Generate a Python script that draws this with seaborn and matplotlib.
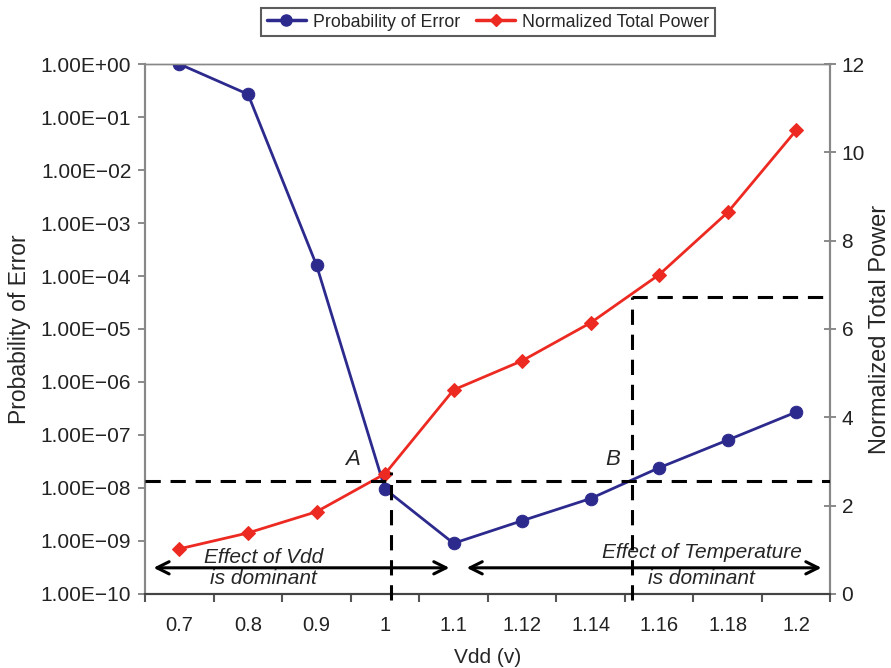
import numpy as np
import pandas as pd
import matplotlib
matplotlib.use("Agg")
import matplotlib.pyplot as plt
import seaborn as sns
from matplotlib.lines import Line2D

vdd_labels = ["0.7", "0.8", "0.9", "1", "1.1", "1.12", "1.14", "1.16", "1.18", "1.2"]
prob_error = [1.0, 0.27, 1.6e-4, 9.5e-9, 9.0e-10, 2.4e-9, 6.3e-9, 2.4e-8, 8.0e-8, 2.7e-7]
norm_power = [1.02, 1.38, 1.86, 2.72, 4.62, 5.28, 6.14, 7.23, 8.64, 10.5]
left_ticks = [10.0 ** k for k in range(0, -11, -1)]
left_tick_labels = ["1.00E+00"] + ["1.00E\u2212%02d" % k for k in range(1, 11)]
right_ticks = [0, 2, 4, 6, 8, 10, 12]

sns.set_style("white")
plt.rcParams["font.family"] = ["Liberation Sans", "DejaVu Sans"]

blue = "#2d2a8e"
red = "#ec2a22"

df = pd.DataFrame({"pos": np.arange(len(vdd_labels)), "perr": prob_error, "power": norm_power})

fig = plt.figure(figsize=(8.91, 6.68), dpi=100)
ax = fig.add_axes([0.163, 0.111, 0.769, 0.793])
ax2 = ax.twinx()

sns.lineplot(data=df, x="pos", y="perr", ax=ax, color=blue, marker="o", markersize=9,
             markeredgecolor=blue, linewidth=2, zorder=3)
sns.lineplot(data=df, x="pos", y="power", ax=ax2, color=red, marker="D", markersize=7,
             markeredgecolor=red, linewidth=2, zorder=3)

ax.set_yscale("log")
ax.set_ylim(1e-10, 1.0)
ax.set_xlim(-0.5, 9.5)
ax2.set_ylim(0, 12)
ax.set_yticks(left_ticks)
ax.set_yticklabels(left_tick_labels)
ax.yaxis.set_minor_locator(matplotlib.ticker.NullLocator())
ax2.set_yticks(right_ticks)
ax2.set_yticklabels([str(t) for t in right_ticks])

ax.set_xticks(np.arange(len(vdd_labels)))
ax.set_xticklabels(vdd_labels)
ax.set_xticks(np.arange(-0.5, 10, 1), minor=True)
ax.tick_params(axis="x", which="major", length=0, labelsize=14.5, pad=16, colors="#222222")
ax.tick_params(axis="x", which="minor", length=6, width=1.5, color="#555555", direction="out", bottom=True)
ax.tick_params(axis="y", which="major", length=5, width=1.2, color="#777777", direction="out", left=True,
               labelsize=15, labelcolor="#222222", pad=5)
ax2.tick_params(axis="y", length=8, width=1.2, color="#777777", direction="inout", right=True,
                labelsize=15, labelcolor="#222222", pad=4)

for a in (ax, ax2):
    for s in a.spines.values():
        s.set_color("#888888")
        s.set_linewidth(1.5)
    a.spines["bottom"].set_color("#444444")
    a.spines["top"].set_linewidth(1.0)

ax.set_xlabel("Vdd (v)", fontsize=15)
ax.set_ylabel("Probability of Error", fontsize=16.5)
ax2.set_ylabel("Normalized Total Power", fontsize=17)
ax.xaxis.set_label_coords(0.5, -0.103)
ax.yaxis.set_label_coords(-0.166, 0.5)
ax2.yaxis.set_label_coords(1.056, 0.5)

# dashed guide lines (in right-axis units)
dash = dict(color="black", linestyle=(0, (5, 3.2)), linewidth=2.2, zorder=4)
ax2.plot([-0.5, 9.5], [2.56, 2.56], **dash)
ax2.plot([3.09, 3.09], [-0.15, 2.75], clip_on=False, **dash)
ax2.plot([6.61, 9.5], [6.73, 6.73], **dash)
ax2.plot([6.61, 6.61], [-0.15, 6.73], clip_on=False, **dash)

ax2.text(2.53, 2.8, "A", fontsize=16, style="italic", ha="center", va="bottom")
ax2.text(6.32, 2.8, "B", fontsize=16, style="italic", ha="center", va="bottom")

arrow = dict(arrowstyle="<->", color="black", lw=2.2, mutation_scale=22)
ax2.annotate("", xy=(-0.42, 0.59), xytext=(3.98, 0.59), arrowprops=arrow)
ax2.annotate("", xy=(4.15, 0.59), xytext=(9.41, 0.59), arrowprops=arrow)
ax2.text(1.23, 0.82, "Effect of Vdd", fontsize=15, style="italic", ha="center", va="center")
ax2.text(1.23, 0.35, "is dominant", fontsize=15, style="italic", ha="center", va="center")
ax2.text(7.62, 0.93, "Effect of Temperature", fontsize=15, style="italic", ha="center", va="center")
ax2.text(7.62, 0.35, "is dominant", fontsize=15, style="italic", ha="center", va="center")

handles = [Line2D([], [], color=blue, marker="o", markersize=8, linewidth=2.5),
           Line2D([], [], color=red, marker="D", markersize=6, linewidth=2.5)]
fig.legend(handles, ["Probability of Error", "Normalized Total Power"], loc="center",
           bbox_to_anchor=(0.548, 0.967), ncol=2, frameon=True, fancybox=False,
           edgecolor="#333333", fontsize=12.8, handlelength=2.2, handletextpad=0.4,
           columnspacing=0.9, borderpad=0.3, borderaxespad=0)
leg = fig.legends[0]
leg.get_frame().set_linewidth(1.5)

fig.savefig("out.png", dpi=100)
